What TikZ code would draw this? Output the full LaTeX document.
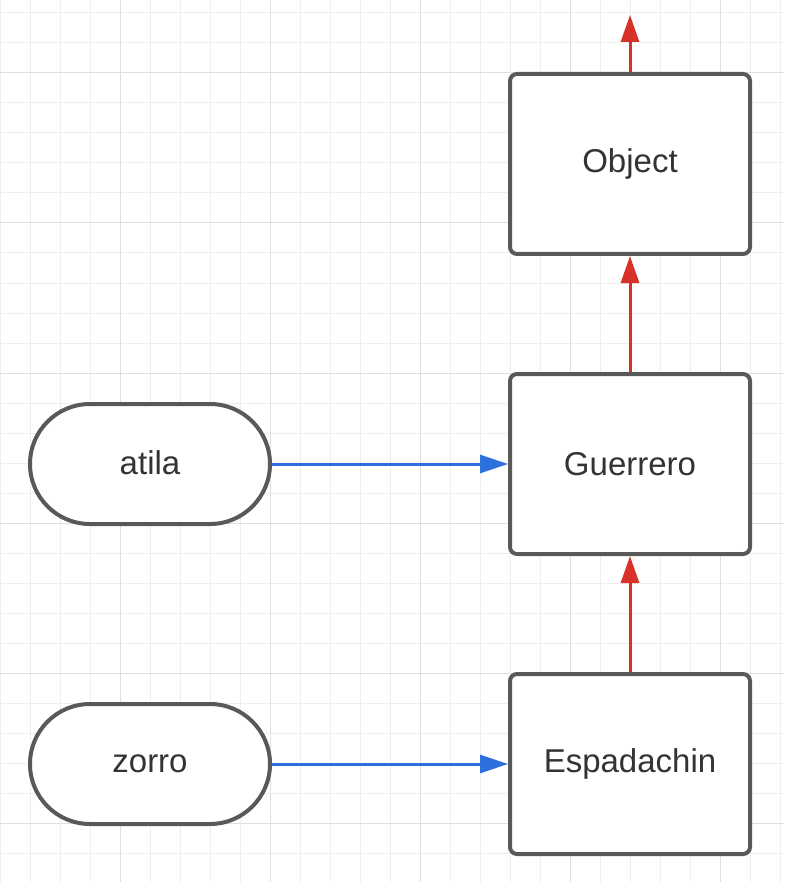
\documentclass[tikz,border=0pt]{standalone}
\usepackage{fontspec}
\setmainfont{Liberation Sans}
\usetikzlibrary{arrows.meta}
\definecolor{gridminor}{RGB}{238,238,238}
\definecolor{gridmajor}{RGB}{223,223,223}
\definecolor{boxline}{RGB}{89,89,89}
\definecolor{txt}{RGB}{51,51,51}
\definecolor{inhred}{RGB}{214,50,40}
\definecolor{refblue}{RGB}{45,112,220}
\tikzset{
  classbox/.style={draw=boxline, line width=4pt, fill=white, rounded corners=7pt,
    minimum width=240pt, minimum height=180pt, inner sep=0pt, text=txt,
    font=\fontsize{33}{39}\selectfont},
  objpill/.style={draw=boxline, line width=4pt, fill=white, rounded corners=60pt,
    minimum width=240pt, minimum height=120pt, inner sep=0pt, text=txt,
    font=\fontsize{33}{39}\selectfont},
  inherit/.style={draw=inhred, line width=3pt, -{Triangle[length=27pt,width=18pt]}},
  instance/.style={draw=refblue, line width=3pt, -{Triangle[length=28pt,width=18pt]}}
}
\begin{document}
\begin{tikzpicture}[x=1pt,y=-1pt]
\useasboundingbox (0,0) rectangle (784,882);
\fill[white] (0,0) rectangle (784,882);
% grid
\foreach \x in {0,30,...,780} \draw[gridminor, line width=1pt] (\x,0) -- (\x,882);
\foreach \y in {13,43,...,882} \draw[gridminor, line width=1pt] (0,\y) -- (784,\y);
\foreach \x in {120,270,420,570,720} \draw[gridmajor, line width=1pt] (\x,0) -- (\x,882);
\foreach \y in {73,223,373,523,673,823} \draw[gridmajor, line width=1pt] (0,\y) -- (784,\y);
% nodes
\node[classbox] (object) at (630,164) {Object};
\node[classbox] (guerrero) at (630,464) {Guerrero};
\node[classbox] (espadachin) at (630,764) {Espadachin};
\node[objpill] (atila) at (150,464) {\raisebox{3pt}{atila}};
\node[objpill] (zorro) at (150,764) {zorro};
\coordinate (top) at (630,15);
% connectors
\draw[inherit] (object.north) -- (top);
\draw[inherit] (guerrero.north) -- (object.south);
\draw[inherit] (espadachin.north) -- (guerrero.south);
\draw[instance] (atila.east) -- (guerrero.west);
\draw[instance] (zorro.east) -- (espadachin.west);
\end{tikzpicture}
\end{document}
